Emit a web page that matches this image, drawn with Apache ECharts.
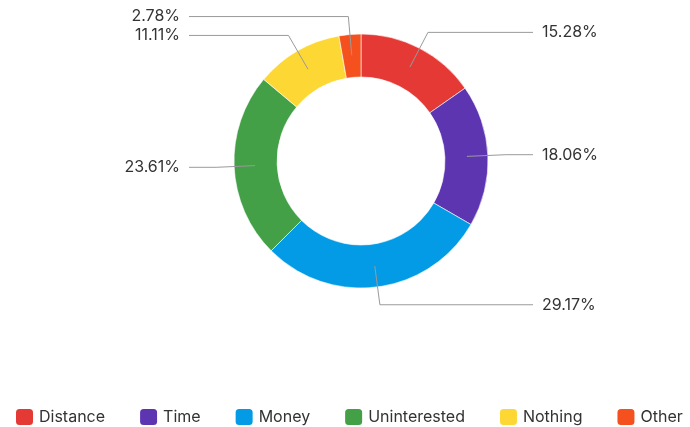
<!DOCTYPE html>
<html>
<head>
<meta charset="utf-8">
<script src="https://cdn.jsdelivr.net/npm/echarts@6/dist/echarts.min.js"></script>
<style>
  html, body { margin: 0; padding: 0; background: #ffffff; }
  #chart { width: 690px; height: 427px; }
</style>
</head>
<body>
<div id="chart"></div>
<script>
// Reasons given, share of respondents (%)
const categories = ['Distance', 'Time', 'Money', 'Uninterested', 'Nothing', 'Other'];
const shares = [15.28, 18.06, 29.17, 23.61, 11.11, 2.78];
const colors = ['#E53935', '#5E35B1', '#039BE5', '#43A047', '#FDD835', '#F4511E'];

const CENTER = [361, 161];
const LINE_REACH = 172;   // horizontal distance from centre to the end of every leader line
const LABEL_GAP = 9;      // space between leader line end and its text

const ringData = categories.map((name, i) => ({
  name,
  value: shares[i],
  itemStyle: { color: colors[i] }
}));

// Invisible copy of the ring, used only to anchor leader lines mid-band
const labelData = categories.map((name, i) => ({
  name,
  value: shares[i],
  itemStyle: { color: 'rgba(0,0,0,0)' }
}));

const FONT = 'Inter, "Noto Sans", sans-serif';

const chart = echarts.init(document.getElementById('chart'), null, { renderer: 'canvas' });

chart.setOption({
  animation: false,
  backgroundColor: '#ffffff',
  legend: {
    data: categories,
    left: 14,
    right: 0,
    top: 402,
    padding: [5, 0, 5, 0],
    itemWidth: 19,
    itemHeight: 18,
    itemGap: 33,
    icon: 'roundRect',
    textStyle: { fontFamily: FONT, fontSize: 16, color: '#333333' }
  },
  series: [
    {
      name: 'Reasons',
      type: 'pie',
      center: CENTER,
      radius: [84, 127],
      startAngle: 90,
      clockwise: true,
      silent: true,
      label: { show: false },
      labelLine: { show: false },
      itemStyle: { borderColor: '#ffffff', borderWidth: 0.6 },
      data: ringData
    },
    {
      name: 'Labels',
      type: 'pie',
      center: CENTER,
      radius: [84, 106],
      startAngle: 90,
      clockwise: true,
      silent: true,
      z: 3,
      label: {
        show: true,
        position: 'outside',
        fontFamily: FONT,
        fontSize: 16,
        color: '#333333',
        formatter: p => p.value.toFixed(2) + '%'
      },
      labelLine: {
        show: true,
        length: 39,
        length2: 20,
        lineStyle: { color: '#9a9a9a', width: 1 }
      },
      // line up every leader line end on a common column each side
      labelLayout: function (params) {
        const pts = params.labelLinePoints;
        if (!pts) return {};
        const left = pts[0][0] < CENTER[0];
        const endX = left ? CENTER[0] - LINE_REACH : CENTER[0] + LINE_REACH;
        const y = pts[2][1];
        return {
          x: left ? endX - LABEL_GAP : endX + LABEL_GAP,
          y: y,
          align: left ? 'right' : 'left',
          verticalAlign: 'middle',
          labelLinePoints: [pts[0], [pts[1][0], y], [endX, y]]
        };
      },
      data: labelData
    }
  ]
});
</script>
</body>
</html>
